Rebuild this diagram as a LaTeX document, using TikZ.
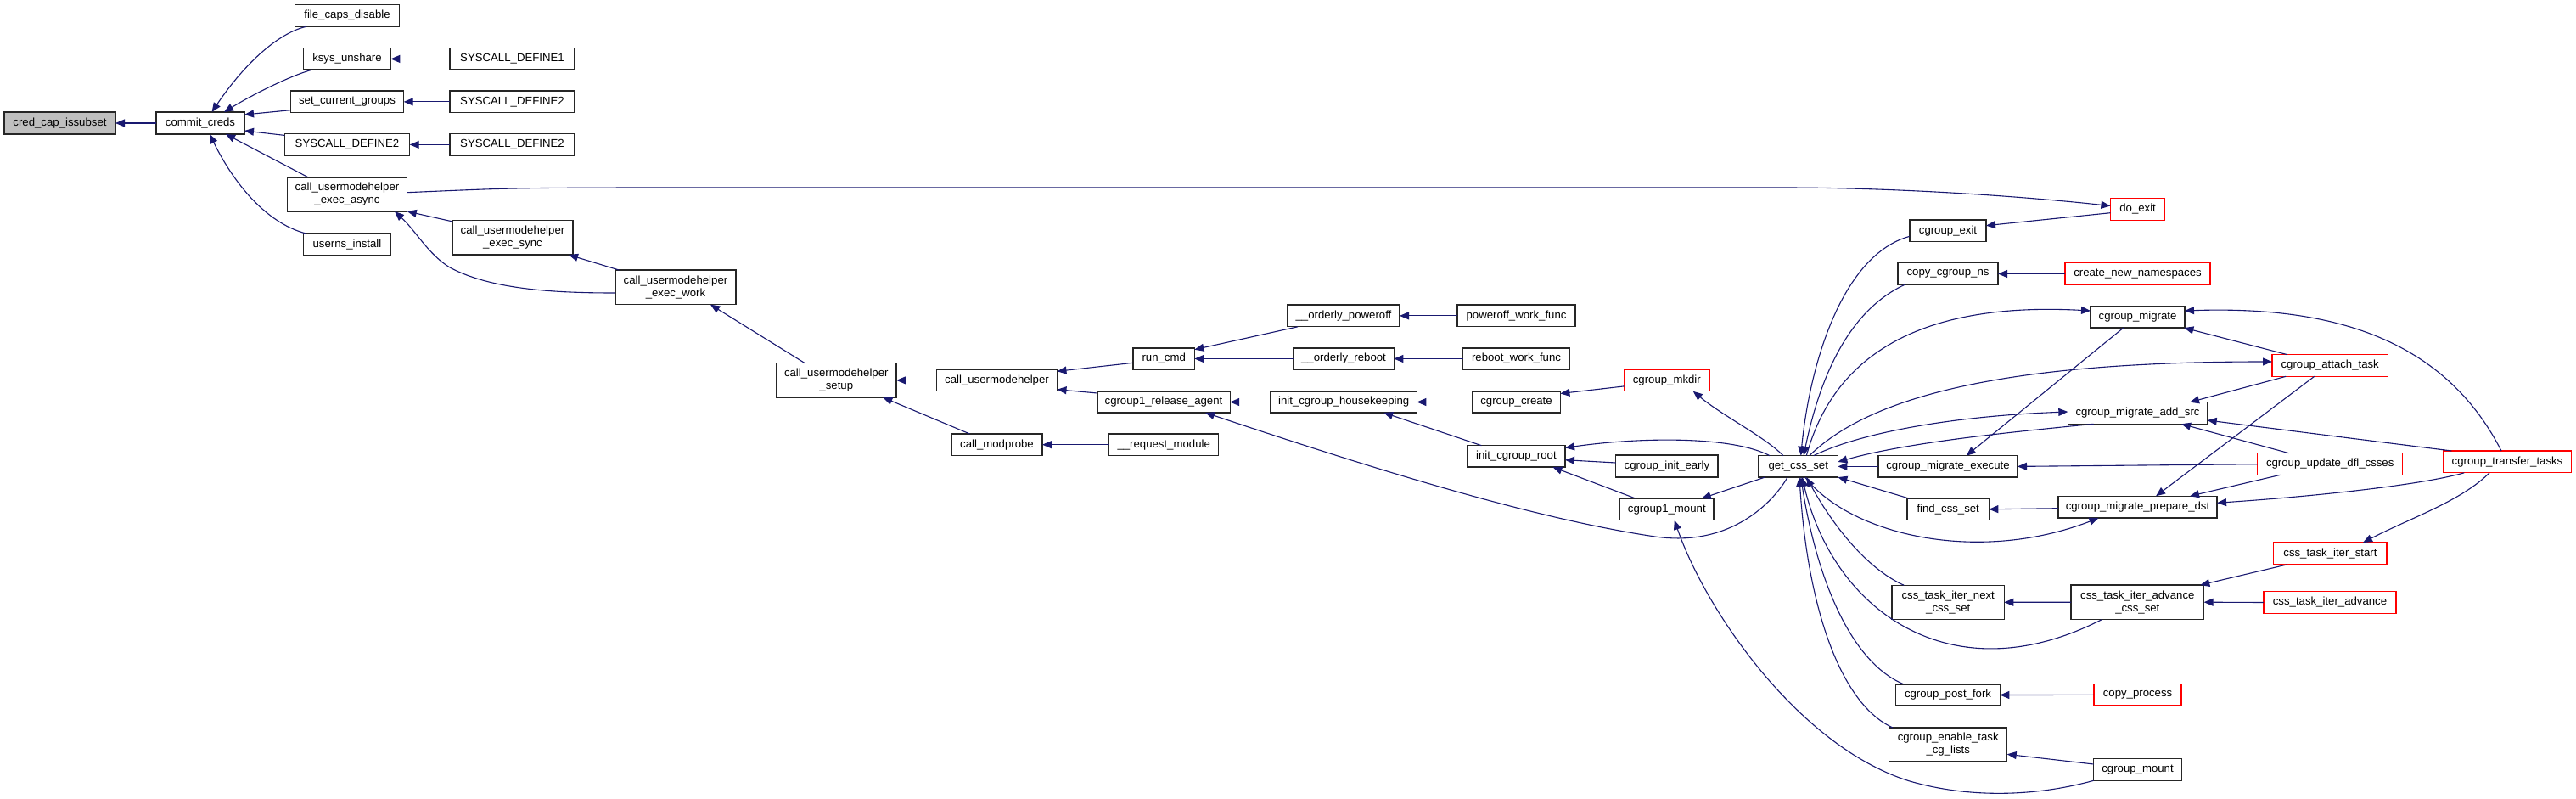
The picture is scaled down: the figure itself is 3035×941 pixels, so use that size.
\documentclass[tikz,border=0pt]{standalone}
\usepackage{fontspec}
\setmainfont{Liberation Sans}
\usetikzlibrary{arrows.meta}
\definecolor{edgeblue}{HTML}{191970}
\definecolor{boxgray}{HTML}{BFBFBF}
\begin{document}
\begin{tikzpicture}[x=1pt,y=-1pt,
  fn/.style={draw=black!85, line width=1.3pt, fill=white, inner sep=0pt, outer sep=0pt,
    align=center, font=\fontsize{13.2}{15}\selectfont},
  rootfn/.style={fn, fill=boxgray},
  redfn/.style={fn, draw=red},
  e/.style={draw=edgeblue, line width=1.1pt, {Triangle[length=11pt,width=9pt]}-}]
\useasboundingbox[fill=white] (0,0) rectangle (3035,941);
% nodes
\node[rootfn, minimum width=131pt, minimum height=26pt] (root) at (70.5,145) {cred\_cap\_issubset};
\node[fn, minimum width=104pt, minimum height=26pt] (cc) at (236,145) {commit\_creds};
\node[fn, minimum width=123pt, minimum height=25.6pt] (fcd) at (409,18.5) {file\_caps\_disable};
\node[fn, minimum width=102.6pt, minimum height=25.4pt] (ksys) at (409,69.4) {ksys\_unshare};
\node[fn, minimum width=133.4pt, minimum height=25.6pt] (scg) at (409,119.9) {set\_current\_groups};
\node[fn, minimum width=147.4pt, minimum height=25.4pt] (sd2a) at (409,170.4) {SYSCALL\_DEFINE2};
\node[fn, minimum width=141.6pt, minimum height=40pt] (async) at (409,229) {call\_usermodehelper\\\_exec\_async};
\node[fn, minimum width=102.6pt, minimum height=25.6pt] (ui) at (409,287.9) {userns\_install};
\node[fn, minimum width=147pt, minimum height=25.4pt] (sd1) at (603.5,69.4) {SYSCALL\_DEFINE1};
\node[fn, minimum width=147pt, minimum height=25.6pt] (sd2b) at (603.5,119.9) {SYSCALL\_DEFINE2};
\node[fn, minimum width=147pt, minimum height=25.4pt] (sd2c) at (603.5,170.4) {SYSCALL\_DEFINE2};
\node[fn, minimum width=142pt, minimum height=40.3pt] (sync) at (604,279.9) {call\_usermodehelper\\\_exec\_sync};
\node[fn, minimum width=142pt, minimum height=40.6pt] (work) at (796,338.4) {call\_usermodehelper\\\_exec\_work};
\node[fn, minimum width=141.6pt, minimum height=40.3pt] (setup) at (985.3,447.9) {call\_usermodehelper\\\_setup};
\node[fn, minimum width=142pt, minimum height=25.7pt] (cuh) at (1174.5,447.9) {call\_usermodehelper};
\node[fn, minimum width=72.3pt, minimum height=25pt] (runcmd) at (1371.2,422.5) {run\_cmd};
\node[fn, minimum width=156.3pt, minimum height=25pt] (rel) at (1371,473.5) {cgroup1\_release\_agent};
\node[fn, minimum width=107pt, minimum height=25.3pt] (modp) at (1174.5,523.7) {call\_modprobe};
\node[fn, minimum width=129pt, minimum height=25.3pt] (reqm) at (1371.2,523.7) {\_\_request\_module};
\node[fn, minimum width=132pt, minimum height=25.7pt] (poff) at (1583,371.9) {\_\_orderly\_poweroff};
\node[fn, minimum width=139pt, minimum height=25.7pt] (pwf) at (1786.5,371.9) {poweroff\_work\_func};
\node[fn, minimum width=118.6pt, minimum height=25pt] (reb) at (1583,422.5) {\_\_orderly\_reboot};
\node[fn, minimum width=126pt, minimum height=25pt] (rwf) at (1786.5,422.5) {reboot\_work\_func};
\node[redfn, minimum width=100.5pt, minimum height=25.7pt] (mkdir) at (1963.8,447.9) {cgroup\_mkdir};
\node[fn, minimum width=172.3pt, minimum height=25pt] (hk) at (1583.2,473.5) {init\_cgroup\_housekeeping};
\node[fn, minimum width=103.7pt, minimum height=25pt] (create) at (1786.5,473.5) {cgroup\_create};
\node[fn, minimum width=115.2pt, minimum height=25.3pt] (icr) at (1786.4,537.4) {init\_cgroup\_root};
\node[fn, minimum width=120.3pt, minimum height=26pt] (cie) at (1963.9,549) {cgroup\_init\_early};
\node[fn, minimum width=93.4pt, minimum height=25.3pt] (gcs) at (2118.7,549.4) {get\_css\_set};
\node[fn, minimum width=110.4pt, minimum height=25.7pt] (c1m) at (1963.8,599.9) {cgroup1\_mount};
\node[redfn, minimum width=64.3pt, minimum height=25.6pt] (doexit) at (2518.6,246.5) {do\_exit};
\node[fn, minimum width=90pt, minimum height=25.3pt] (cexit) at (2295,271.7) {cgroup\_exit};
\node[fn, minimum width=118pt, minimum height=25.6pt] (ccns) at (2295,322.5) {copy\_cgroup\_ns};
\node[redfn, minimum width=171pt, minimum height=25.6pt] (cnn) at (2518.5,322.5) {create\_new\_namespaces};
\node[fn, minimum width=111pt, minimum height=25.3pt] (cmig) at (2518.5,373.4) {cgroup\_migrate};
\node[redfn, minimum width=136.3pt, minimum height=25.6pt] (cat) at (2745.2,430.5) {cgroup\_attach\_task};
\node[fn, minimum width=164.4pt, minimum height=25.6pt] (cmas) at (2518.5,486.5) {cgroup\_migrate\_add\_src};
\node[fn, minimum width=164pt, minimum height=25.3pt] (cme) at (2295,549.4) {cgroup\_migrate\_execute};
\node[redfn, minimum width=171pt, minimum height=25.6pt] (cudc) at (2745.2,546.5) {cgroup\_update\_dfl\_csses};
\node[redfn, minimum width=151.3pt, minimum height=25.7pt] (ctt) at (2954,543.9) {cgroup\_transfer\_tasks};
\node[fn, minimum width=96.3pt, minimum height=25pt] (fcs) at (2295.2,599.8) {find\_css\_set};
\node[fn, minimum width=187pt, minimum height=25.7pt] (cmpd) at (2518.5,597.2) {cgroup\_migrate\_prepare\_dst};
\node[redfn, minimum width=133.3pt, minimum height=25.7pt] (ctis) at (2745.4,651.9) {css\_task\_iter\_start};
\node[fn, minimum width=132.3pt, minimum height=40pt] (ctinc) at (2295.2,709.3) {css\_task\_iter\_next\\\_css\_set};
\node[fn, minimum width=156.6pt, minimum height=40.3pt] (ctiac) at (2518.3,709.2) {css\_task\_iter\_advance\\\_css\_set};
\node[redfn, minimum width=156.2pt, minimum height=25.6pt] (ctia) at (2745,709.5) {css\_task\_iter\_advance};
\node[fn, minimum width=122.6pt, minimum height=25pt] (cpf) at (2295,818.5) {cgroup\_post\_fork};
\node[redfn, minimum width=103pt, minimum height=25.3pt] (cp) at (2518.5,818.4) {copy\_process};
\node[fn, minimum width=139pt, minimum height=40pt] (cetcl) at (2295.2,877) {cgroup\_enable\_task\\\_cg\_lists};
\node[fn, minimum width=103.8pt, minimum height=25.6pt] (cmnt) at (2518.5,906.5) {cgroup\_mount};
% edges
\draw[e] (root.east) -- (cc.west);
\draw[e] ([shift={(13.6,-13)}]cc.center) .. controls (290,72) and (330,38) .. ([shift={(-48,12.8)}]fcd.center);
\draw[e] ([shift={(28,-13)}]cc.center) .. controls (300,110) and (345,88) .. ([shift={(-41,12.7)}]ksys.center);
\draw[e] ([shift={(52,-10)}]cc.center) -- ([shift={(-66.7,9.8)}]scg.center);
\draw[e] ([shift={(52,9)}]cc.center) -- ([shift={(-73.7,-11)}]sd2a.center);
\draw[e] ([shift={(30,13)}]cc.center) -- ([shift={(-45.6,-20)}]async.center);
\draw[e] ([shift={(11,13)}]cc.center) .. controls (280,225) and (320,265) .. ([shift={(-48,-12.8)}]ui.center);
\draw[e] (ksys.east) -- (sd1.west);
\draw[e] (scg.east) -- (sd2b.west);
\draw[e] (sd2a.east) -- (sd2c.west);
\draw[e] (async.south east) -- ([shift={(-71,-19)}]sync.center);
\draw[e] ([shift={(56,20)}]async.center) .. controls (490,272) and (505,300) .. (530,315) .. controls (580,342) and (660,345) .. ([shift={(-71,6.6)}]work.center);
\draw[e] ([shift={(66,20.2)}]sync.center) -- ([shift={(-66.5,-20.3)}]work.center);
\draw[e] ([shift={(-32.2,-4)}]doexit.center) .. controls (2400,233) and (2250,221) .. (2100,221) -- (740,221) .. controls (600,221.5) .. ([shift={(70.8,-2.3)}]async.center);
\draw[e] ([shift={(45,-6)}]cexit.center) -- ([shift={(-32.2,4.2)}]doexit.center);
\draw[e] ([shift={(41,20.3)}]work.center) -- ([shift={(-37,-20.2)}]setup.center);
\draw[e] (setup.east) -- (cuh.west);
\draw[e] ([shift={(55,20.2)}]setup.center) -- ([shift={(-32,-12.7)}]modp.center);
\draw[e] ([shift={(71,-10.6)}]cuh.center) -- ([shift={(-36.2,4.8)}]runcmd.center);
\draw[e] ([shift={(71,10.8)}]cuh.center) -- ([shift={(-78.2,-10.5)}]rel.center);
\draw[e] (modp.east) -- (reqm.west);
\draw[e] ([shift={(36.2,-10.8)}]runcmd.center) -- ([shift={(-54,12.9)}]poff.center);
\draw[e] (runcmd.east) -- (reb.west);
\draw[e] (poff.east) -- (pwf.west);
\draw[e] (reb.east) -- (rwf.west);
\draw[e] (rel.east) -- (hk.west);
\draw[e] ([shift={(49,12.5)}]rel.center) .. controls (1600,546) and (1800,610) .. (1950,632) .. controls (2040,645) and (2090,590) .. ([shift={(-12.7,12.7)}]gcs.center);
\draw[e] (hk.east) -- (create.west);
\draw[e] ([shift={(47,12.5)}]hk.center) -- ([shift={(-41,-12.7)}]icr.center);
\draw[e] ([shift={(51.9,-10)}]create.center) -- ([shift={(-50.3,7)}]mkdir.center);
\draw[e] ([shift={(31,12.9)}]mkdir.center) .. controls (2030,490) and (2080,515) .. ([shift={(-17.7,-12.7)}]gcs.center);
\draw[e] ([shift={(57.6,-10)}]icr.center) .. controls (1930,515) and (2040,513) .. ([shift={(-33.7,-12.7)}]gcs.center);
\draw[e] ([shift={(57.6,4.3)}]icr.center) -- ([shift={(-60.2,-4)}]cie.center);
\draw[e] ([shift={(43,12.7)}]icr.center) -- ([shift={(-37,-12.9)}]c1m.center);
\draw[e] ([shift={(41,-12.9)}]c1m.center) -- ([shift={(-39.5,12.7)}]gcs.center);
\draw[e] ([shift={(9,12.9)}]c1m.center) .. controls (2010,720) and (2120,880) .. (2250,920) .. controls (2330,943) and (2410,935) .. ([shift={(-51.9,12.8)}]cmnt.center);
\draw[e] ([shift={(3,-12.7)}]gcs.center) .. controls (2132,430) and (2170,300) .. ([shift={(-45,6.6)}]cexit.center);
\draw[e] ([shift={(6.3,-12.7)}]gcs.center) .. controls (2145,440) and (2180,365) .. ([shift={(-51,12.8)}]ccns.center);
\draw[e] ([shift={(-55.5,-7.4)}]cmig.center) .. controls (2260,355) and (2160,420) .. ([shift={(9.6,-12.7)}]gcs.center);
\draw[e] ([shift={(-68.2,-4.5)}]cat.center) .. controls (2350,426) and (2200,470) .. ([shift={(13,-12.7)}]gcs.center);
\draw[e] ([shift={(-82.2,-1.5)}]cmas.center) .. controls (2300,490) and (2190,510) .. ([shift={(18,-12.7)}]gcs.center);
\draw[e] ([shift={(46.7,-5.4)}]gcs.center) .. controls (2250,520) and (2380,508) .. ([shift={(-51.8,12.8)}]cmas.center);
\draw[e] (gcs.east) -- (cme.west);
\draw[e] (gcs.south east) -- ([shift={(-45.2,-12.5)}]fcs.center);
\draw[e] ([shift={(-46,12.9)}]cmpd.center) .. controls (2330,665) and (2180,630) .. ([shift={(8,12.7)}]gcs.center);
\draw[e] ([shift={(9.6,12.7)}]gcs.center) .. controls (2160,620) and (2200,670) .. ([shift={(-52,-20)}]ctinc.center);
\draw[e] ([shift={(4.6,12.7)}]gcs.center) .. controls (2160,720) and (2300,820) .. ([shift={(-41.6,20.2)}]ctiac.center);
\draw[e] ([shift={(3,12.7)}]gcs.center) .. controls (2140,680) and (2180,780) .. ([shift={(-51.7,-12.5)}]cpf.center);
\draw[e] ([shift={(1.3,12.7)}]gcs.center) .. controls (2130,720) and (2170,830) .. ([shift={(-65.2,-20)}]cetcl.center);
\draw[e] ([shift={(69.5,11.3)}]cetcl.center) -- ([shift={(-51.9,-6.5)}]cmnt.center);
\draw[e] (cpf.east) -- (cp.west);
\draw[e] (ctinc.east) -- (ctiac.west);
\draw[e] (ccns.east) -- (cnn.west);
\draw[e] ([shift={(21.7,-12.7)}]cme.center) -- ([shift={(-16.8,12.7)}]cmig.center);
\draw[e] ([shift={(54.8,12.7)}]cmig.center) -- ([shift={(-50.2,-12.8)}]cat.center);
\draw[e] ([shift={(55.5,-7.4)}]cmig.center) .. controls (2750,360) and (2880,400) .. ([shift={(-7,-12.9)}]ctt.center);
\draw[e] ([shift={(61.5,-12.8)}]cmas.center) -- ([shift={(-52,12.8)}]cat.center);
\draw[e] ([shift={(21.5,-12.9)}]cmpd.center) -- ([shift={(-18.5,12.8)}]cat.center);
\draw[e] ([shift={(82.2,8.5)}]cmas.center) -- ([shift={(-65.7,-12.9)}]ctt.center);
\draw[e] ([shift={(51.5,12.8)}]cmas.center) -- ([shift={(-48.5,-12.8)}]cudc.center);
\draw[e] ([shift={(82,0)}]cme.center) -- ([shift={(-85.5,0.2)}]cudc.center);
\draw[e] ([shift={(61.5,-12.9)}]cmpd.center) -- ([shift={(-58.5,12.8)}]cudc.center);
\draw[e] ([shift={(93.5,-4.9)}]cmpd.center) .. controls (2720,585) and (2850,572) .. ([shift={(-50.7,12.9)}]ctt.center);
\draw[e] ([shift={(48.1,0)}]fcs.center) -- ([shift={(-93.5,1.5)}]cmpd.center);
\draw[e] ([shift={(38.6,-12.9)}]ctis.center) .. controls (2840,610) and (2900,590) .. ([shift={(-21,12.9)}]ctt.center);
\draw[e] ([shift={(74,-20.2)}]ctiac.center) -- ([shift={(-50.4,12.9)}]ctis.center);
\draw[e] (ctiac.east) -- (ctia.west);
\end{tikzpicture}
\end{document}
